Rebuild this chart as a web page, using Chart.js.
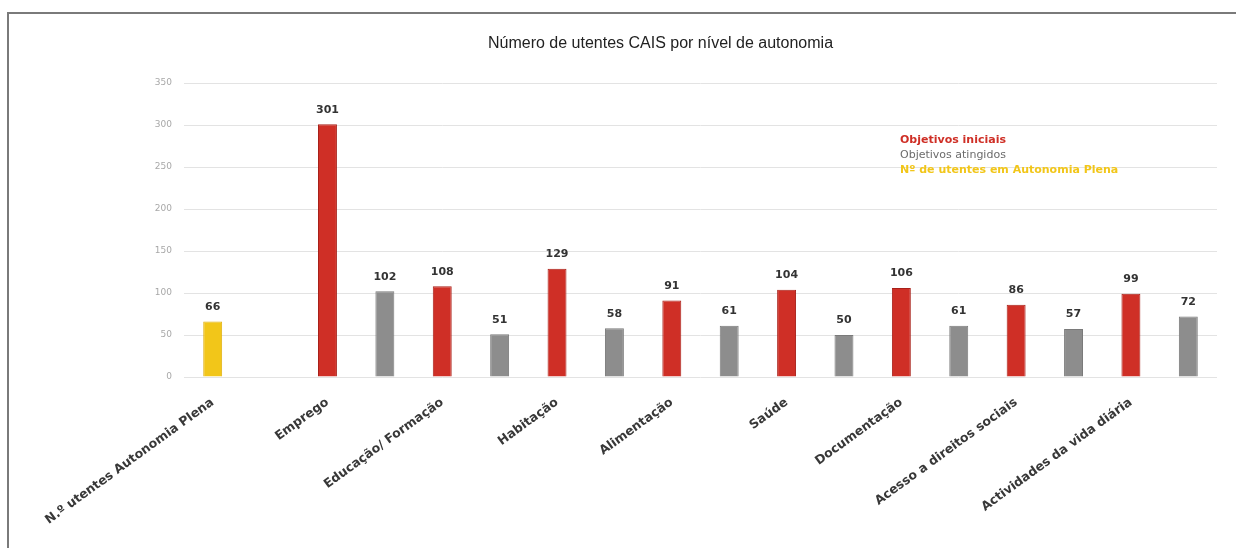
<!DOCTYPE html>
<html lang="pt">
<head>
<meta charset="utf-8">
<title>Número de utentes CAIS por nível de autonomia</title>
<script src="https://cdn.jsdelivr.net/npm/chart.js@4.4.1/dist/chart.umd.min.js"></script>
<style>
    html, body { margin: 0; padding: 0; background: #fff; overflow: hidden; }
    .frame {
        position: absolute; left: 7px; top: 12px;
        width: 1400px; height: 700px;
        border: 2px solid #7a7a7a;
    }
    .wrap { position: absolute; left: 0; top: 0; width: 1236px; height: 548px; }
</style>
</head>
<body>
<div class="frame"></div>
<div class="wrap"><canvas id="chart" width="1236" height="548"></canvas></div>
<script>
// Dados
const categories = [
    'N.º utentes Autonomia Plena', 'Emprego', 'Educação/ Formação', 'Habitação',
    'Alimentação', 'Saúde', 'Documentação', 'Acesso a direitos sociais',
    'Actividades da vida diária'
];
const initialGoals = [null, 301, 108, 129, 91, 104, 106, 86, 99];
const achievedGoals = [null, 102, 51, 58, 61, 50, 61, 57, 72];
const fullAutonomy = [66, null, null, null, null, null, null, null, null];
const yTicks = [0, 50, 100, 150, 200, 250, 300, 350];

const RED = '#cf2f26';
const GREY = '#8d8d8d';
const YELLOW = '#f2c619';

// cada categoria ocupa duas posições: objetivo inicial + atingido
const slotLabels = [];
const slotInitial = [];
const slotAchieved = [];
const slotAutonomy = [];
categories.forEach((cat, i) => {
    slotLabels.push(cat, '');
    slotInitial.push(initialGoals[i], null);
    slotAchieved.push(null, achievedGoals[i]);
    slotAutonomy.push(fullAutonomy[i], null);
});

const valueLabels = {
    id: 'valueLabels',
    afterDatasetsDraw(chart) {
        const ctx = chart.ctx;
        ctx.save();
        ctx.font = 'bold 11px "DejaVu Sans"';
        ctx.fillStyle = '#333';
        ctx.textAlign = 'center';
        ctx.textBaseline = 'bottom';
        chart.data.datasets.forEach((ds, di) => {
            chart.getDatasetMeta(di).data.forEach((bar, i) => {
                if (ds.data[i] == null) return;
                ctx.fillText(ds.data[i], bar.x, bar.y - 9);
            });
        });
        ctx.restore();
    }
};

// legenda só com texto colorido, dentro da área do gráfico
const textLegend = {
    id: 'textLegend',
    afterDraw(chart) {
        const ctx = chart.ctx;
        const items = [
            { text: 'Objetivos iniciais', color: RED, weight: 'bold' },
            { text: 'Objetivos atingidos', color: '#6b6b6b', weight: 'normal' },
            { text: 'Nº de utentes em Autonomia Plena', color: YELLOW, weight: 'bold' }
        ];
        ctx.save();
        ctx.textAlign = 'left';
        ctx.textBaseline = 'middle';
        items.forEach((it, i) => {
            ctx.font = it.weight + ' 11px "DejaVu Sans"';
            ctx.fillStyle = it.color;
            ctx.fillText(it.text, 900, 140 + i * 15);
        });
        ctx.restore();
    }
};

const ctx = document.getElementById('chart').getContext('2d');
new Chart(ctx, {
    type: 'bar',
    data: {
        labels: slotLabels,
        datasets: [
            { label: 'Objetivos iniciais', data: slotInitial, backgroundColor: RED, borderColor: '#a82019', borderWidth: 1 },
            { label: 'Objetivos atingidos', data: slotAchieved, backgroundColor: GREY, borderColor: '#7a7a7a', borderWidth: 1 },
            { label: 'Nº de utentes em Autonomia Plena', data: slotAutonomy, backgroundColor: YELLOW, borderColor: '#e0b010', borderWidth: 1 }
        ]
    },
    options: {
        responsive: false,
        animation: false,
        layout: { padding: { top: 34, right: 19, bottom: 0, left: 104 } },
        datasets: {
            bar: { grouped: false, barPercentage: 0.33, categoryPercentage: 1 }
        },
        plugins: {
            legend: { display: false },
            tooltip: { enabled: false },
            title: {
                display: true,
                text: 'Número de utentes CAIS por nível de autonomia',
                color: '#222',
                font: { family: '"Liberation Sans", Arial, sans-serif', size: 16, weight: 'normal' },
                padding: { top: 0, bottom: 29.8 }
            }
        },
        scales: {
            x: {
                grid: { display: false },
                border: { display: false },
                ticks: {
                    autoSkip: false,
                    minRotation: 36,
                    maxRotation: 36,
                    padding: 10,
                    color: '#383838',
                    font: { family: '"DejaVu Sans"', size: 12.5, weight: 'bold' }
                },
                afterFit: scale => { scale.height = 171; }
            },
            y: {
                min: 0,
                max: 350,
                afterBuildTicks: scale => { scale.ticks = yTicks.map(v => ({ value: v })); },
                grid: { color: '#e3e3e3', drawTicks: false },
                border: { display: false },
                ticks: {
                    padding: 12,
                    color: '#a8a8a8',
                    font: { family: '"DejaVu Sans"', size: 9 }
                },
                afterFit: scale => { scale.width = 80; }
            }
        }
    },
    plugins: [valueLabels, textLegend]
});
</script>
</body>
</html>
